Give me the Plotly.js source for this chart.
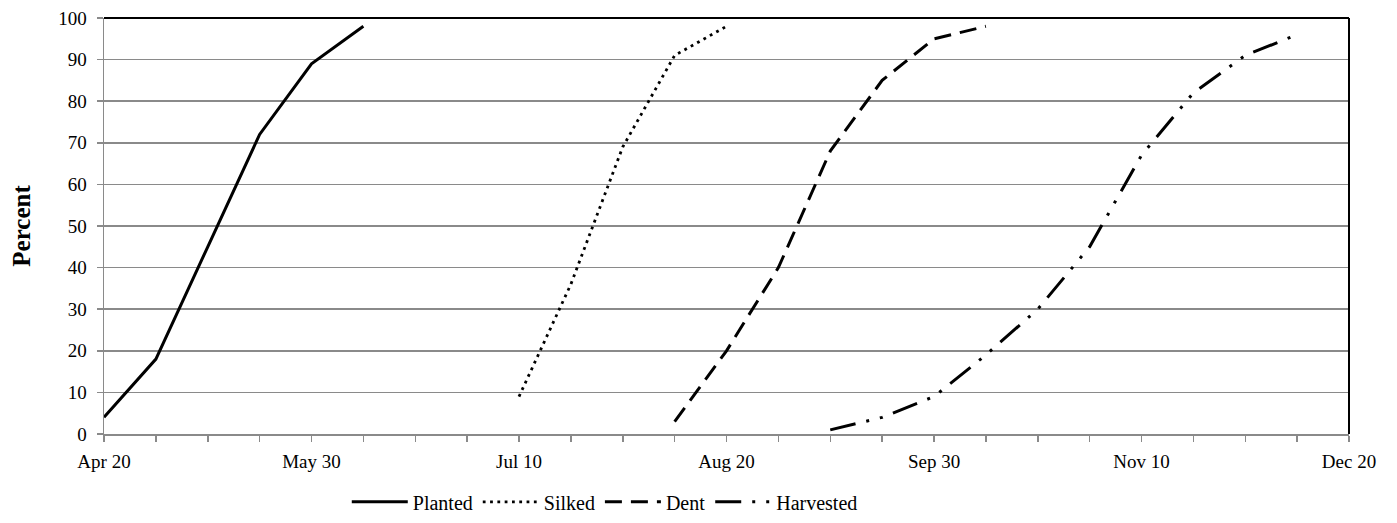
<!DOCTYPE html>
<html>
<head>
<meta charset="utf-8">
<script src="https://cdn.plot.ly/plotly-3.0.1.min.js"></script>
<style>html,body{margin:0;padding:0;background:#fff;}#chart{width:1397px;height:523px;}</style>
</head>
<body>
<div id="chart"></div>
<script>
// Ten-day reporting periods (category axis)
const periods = ['Apr 20','Apr 30','May 10','May 20','May 30','Jun 10','Jun 20','Jun 30','Jul 10','Jul 20','Jul 30','Aug 10','Aug 20','Aug 30','Sep 10','Sep 20','Sep 30','Oct 10','Oct 20','Oct 30','Nov 10','Nov 20','Nov 30','Dec 10','Dec 20'];
const tickLabels = ['Apr 20','May 30','Jul 10','Aug 20','Sep 30','Nov 10','Dec 20'];

const plantedDates = ['Apr 20','Apr 30','May 10','May 20','May 30','Jun 10'];
const plantedPct   = [4, 18, 45, 72, 89, 98];

const silkedDates = ['Jul 10','Jul 20','Jul 30','Aug 10','Aug 20'];
const silkedPct   = [9, 36, 69, 91, 98];

const dentDates = ['Aug 10','Aug 20','Aug 30','Sep 10','Sep 20','Sep 30','Oct 10'];
const dentPct   = [3, 20, 40, 68, 85, 95, 98];

const harvestedDates = ['Sep 10','Sep 20','Sep 30','Oct 10','Oct 20','Oct 30','Nov 10','Nov 20','Nov 30','Dec 10'];
const harvestedPct   = [1, 4, 9, 19, 30, 45, 67, 82, 91, 96];

const FONT = '"Liberation Serif", "Times New Roman", serif';

const traces = [
  {x: plantedDates, y: plantedPct, name: 'Planted', mode: 'lines', line: {color: '#000', width: 3}},
  {x: silkedDates, y: silkedPct, name: 'Silked', mode: 'lines', line: {color: '#000', width: 2.8, dash: '2.8px,4.5px'}},
  {x: dentDates, y: dentPct, name: 'Dent', mode: 'lines', line: {color: '#000', width: 3, dash: '17px,9px'}},
  {x: harvestedDates, y: harvestedPct, name: 'Harvested', mode: 'lines', line: {color: '#000', width: 3, dash: '26px,11px,3px,11px,3px,11px'}}
];

const layout = {
  width: 1397, height: 523,
  margin: {l: 104, r: 48, t: 18, b: 89, pad: 0, autoexpand: false},
  paper_bgcolor: '#fff', plot_bgcolor: '#fff',
  font: {family: FONT, size: 19, color: '#000'},
  showlegend: true,
  legend: {orientation: 'h', x: 0.195, xanchor: 'left', y: -0.163, yanchor: 'middle',
           font: {family: FONT, size: 20, color: '#000'}, itemwidth: 56, traceorder: 'normal'},
  xaxis: {
    type: 'category', categoryorder: 'array', categoryarray: periods,
    range: [0, periods.length - 1],
    tickmode: 'array', tickvals: periods,
    ticktext: periods.map(p => tickLabels.includes(p) ? p : ''),
    ticks: 'outside', ticklen: 6, tickcolor: '#8a8a8a', tickwidth: 1.5,
    showline: true, linecolor: '#8a8a8a', linewidth: 1.5,
    showgrid: false, zeroline: false,
    ticklabelstandoff: 4,
    tickfont: {family: FONT, size: 19, color: '#000'}
  },
  yaxis: {
    range: [0, 100], tickmode: 'linear', tick0: 0, dtick: 10,
    ticks: 'outside', ticklen: 6, tickcolor: '#8a8a8a', tickwidth: 1.5,
    showline: true, linecolor: '#8a8a8a', linewidth: 1.5,
    showgrid: true, gridcolor: '#8a8a8a', gridwidth: 1.5,
    zeroline: false,
    ticklabelstandoff: 6,
    tickfont: {family: FONT, size: 19, color: '#000'},
    title: {text: '<b>Percent</b>', font: {family: FONT, size: 25, color: '#000'}, standoff: 20}
  },
  shapes: [
    {type: 'line', xref: 'paper', yref: 'paper', x0: 0, x1: 1, y0: 1, y1: 1, line: {color: '#000', width: 2}},
    {type: 'line', xref: 'paper', yref: 'paper', x0: 1, x1: 1, y0: 0, y1: 1, line: {color: '#000', width: 2}}
  ]
};

Plotly.newPlot('chart', traces, layout, {displayModeBar: false, staticPlot: true});
</script>
</body>
</html>
